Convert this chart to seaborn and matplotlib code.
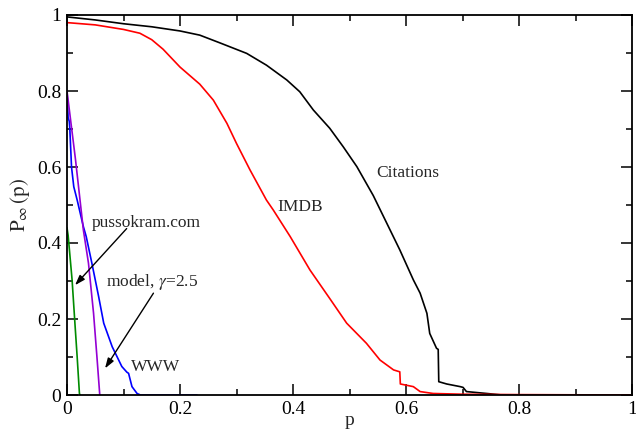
import matplotlib
matplotlib.use("Agg")
import matplotlib.pyplot as plt
import seaborn as sns
import pandas as pd
from matplotlib.ticker import MultipleLocator, FormatStrFormatter

# ---- data ----
cit_p = [0, 0.05, 0.1, 0.15, 0.2, 0.235, 0.27, 0.318, 0.353, 0.389, 0.412, 0.436, 0.465, 0.489,
         0.513, 0.542, 0.566, 0.589, 0.613, 0.625, 0.637, 0.642, 0.654, 0.657, 0.658,
         0.672, 0.696, 0.701, 0.707, 0.743, 0.77]
cit_y = [0.995, 0.987, 0.977, 0.969, 0.958, 0.947, 0.927, 0.899, 0.868, 0.829, 0.798, 0.75, 0.702, 0.653,
         0.601, 0.525, 0.452, 0.382, 0.303, 0.268, 0.215, 0.162, 0.123, 0.12, 0.035,
         0.029, 0.022, 0.02, 0.009, 0.004, 0.0]

imdb_p = [0, 0.05, 0.1, 0.129, 0.15, 0.17, 0.2, 0.235, 0.259, 0.283, 0.3, 0.324, 0.353, 0.365,
          0.395, 0.43, 0.465, 0.495, 0.53, 0.554, 0.578, 0.589, 0.59, 0.613, 0.625, 0.648,
          0.7, 0.8, 1.0]
imdb_y = [0.98, 0.974, 0.962, 0.952, 0.935, 0.91, 0.863, 0.818, 0.776, 0.715, 0.662, 0.592, 0.513,
          0.487, 0.417, 0.329, 0.254, 0.189, 0.136, 0.092, 0.066, 0.061, 0.029, 0.022,
          0.009, 0.004, 0.002, 0.001, 0.0]

www_p = [0, 0.002, 0.004, 0.005, 0.008, 0.012, 0.018, 0.029, 0.034, 0.044, 0.056, 0.065,
         0.08, 0.097, 0.106, 0.109, 0.115, 0.124, 0.13, 0.23]
www_y = [0.8, 0.73, 0.72, 0.70, 0.60, 0.548, 0.513, 0.443, 0.417, 0.347, 0.259, 0.189,
         0.127, 0.075, 0.06, 0.057, 0.022, 0.004, 0.0, 0.0]

model_p = [0, 0.015, 0.029, 0.038, 0.047, 0.053, 0.058]
model_y = [0.8, 0.62, 0.434, 0.347, 0.215, 0.10, 0.0]

puss_p = [0, 0.002, 0.009, 0.014, 0.018, 0.022, 0.023]
puss_y = [0.44, 0.42, 0.303, 0.189, 0.10, 0.004, 0.0]

series = [
    ("Citations", cit_p, cit_y, "#000000"),
    ("IMDB", imdb_p, imdb_y, "#ff0000"),
    ("WWW", www_p, www_y, "#0000ff"),
    ("model", model_p, model_y, "#9400d3"),
    ("pussokram.com", puss_p, puss_y, "#008b00"),
]

sns.set_style("ticks")
plt.rcParams["font.family"] = ["Liberation Serif", "DejaVu Serif"]
plt.rcParams["mathtext.fontset"] = "stix"

fig = plt.figure(figsize=(6.36, 4.32), dpi=100)
ax = fig.add_axes([67/636, 1 - 395/432, 565/636, 380/432])

for name, px, py, col in series:
    df = pd.DataFrame({"p": px, "P": py})
    sns.lineplot(data=df, x="p", y="P", ax=ax, color=col, lw=1.2,
                 estimator=None, sort=False)

ax.set_xlim(0, 1)
ax.set_ylim(0, 1)
ax.xaxis.set_major_locator(MultipleLocator(0.2))
ax.xaxis.set_minor_locator(MultipleLocator(0.1))
ax.yaxis.set_major_locator(MultipleLocator(0.2))
ax.yaxis.set_minor_locator(MultipleLocator(0.1))
ax.xaxis.set_major_formatter(FormatStrFormatter("%g"))
ax.yaxis.set_major_formatter(FormatStrFormatter("%g"))
ax.tick_params(which="both", direction="in", top=True, right=True, width=1.1,
               labelsize=14, colors="black")
ax.tick_params(which="major", length=8, pad=4)
ax.tick_params(which="minor", length=4)
for s in ax.spines.values():
    s.set_linewidth(1.3)
    s.set_color("black")

ax.set_xlabel("p", fontsize=14)
ax.xaxis.set_label_coords(0.5, -0.068)
ax.xaxis.label.set_va("center")
ax.set_ylabel(r"$\mathrm{P}_{\infty}\,\mathrm{(p)}$", fontsize=15, labelpad=4)

tfs = 12.5
ax.text(0.547, 0.584, "Citations", fontsize=tfs, va="center", ha="left")
ax.text(0.373, 0.495, "IMDB", fontsize=tfs, va="center", ha="left")
ax.text(0.044, 0.453, "pussokram.com", fontsize=tfs, va="center", ha="left")
ax.text(0.069, 0.297, r"model, $\gamma$=2.5", fontsize=tfs, va="center", ha="left")
ax.text(0.113, 0.074, "WWW", fontsize=tfs, va="center", ha="left")

arrow = dict(arrowstyle="-|>,head_length=0.6,head_width=0.2", color="black", lw=1.0,
             shrinkA=0, shrinkB=0)
ax.annotate("", xy=(0.0142, 0.289), xytext=(0.1056, 0.438), arrowprops=arrow)
ax.annotate("", xy=(0.0673, 0.070), xytext=(0.153, 0.268), arrowprops=arrow)

fig.savefig("out.png", dpi=100)
